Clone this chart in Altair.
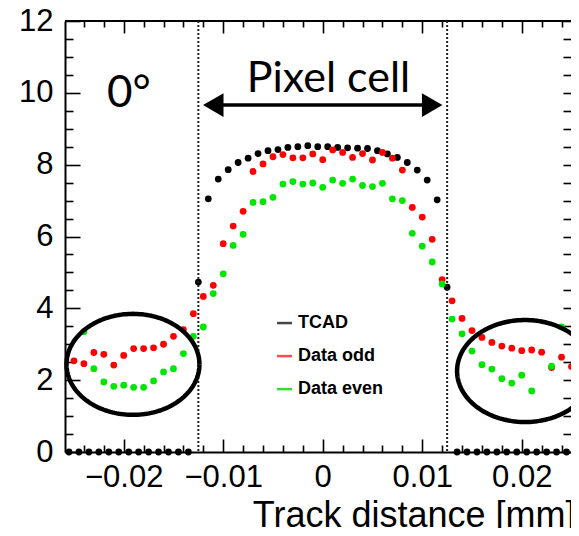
import altair as alt
import numpy as np
import pandas as pd

# ---------------- layout ----------------
W, H = 506, 431
X_DOMAIN = [-0.0259, 0.02495]
Y_DOMAIN = [0, 12]

# ---------------- data ----------------
series_names = ["TCAD", "Data odd", "Data even"]
series_colors = ["#000000", "#ff0000", "#00e600"]

tcad_x = [-0.0255, -0.0245, -0.0235, -0.0225, -0.0215, -0.0205, -0.0195, -0.0185,
          -0.0175, -0.0165, -0.0155, -0.0145, -0.0135,
          -0.0125, -0.0115, -0.0105, -0.0095, -0.0085, -0.0075, -0.0065, -0.0055,
          -0.0045, -0.0035, -0.0025, -0.0015, -0.0005, 0.0005, 0.0015, 0.0025,
          0.0035, 0.0045, 0.0055, 0.0065, 0.0075, 0.0085, 0.0095, 0.0105, 0.0115, 0.0125,
          0.0135, 0.0145, 0.0155, 0.0165, 0.0175, 0.0185, 0.0195, 0.0205, 0.0215,
          0.0225, 0.0235, 0.0245, 0.0255]
tcad_y = [0, 0, 0, 0, 0, 0, 0, 0, 0, 0, 0, 0, 0,
          4.73, 7.05, 7.60, 7.86, 8.06, 8.18, 8.31, 8.39, 8.42, 8.48, 8.50, 8.53, 8.50,
          8.50, 8.48, 8.47, 8.46, 8.45, 8.39, 8.30, 8.20, 8.06, 7.85, 7.57, 7.02, 4.59,
          0, 0, 0, 0, 0, 0, 0, 0, 0, 0, 0, 0, 0]

odd_x = [-0.025, -0.024, -0.023, -0.022, -0.021, -0.020, -0.019, -0.018, -0.017,
         -0.016, -0.015, -0.014, -0.013, -0.012, -0.011, -0.010, -0.009, -0.008,
         -0.007, -0.006, -0.005, -0.004, -0.003, -0.002, -0.001, 0.0, 0.001, 0.002,
         0.003, 0.004, 0.005, 0.006, 0.007, 0.008, 0.009, 0.010, 0.011, 0.012, 0.013,
         0.014, 0.015, 0.016, 0.017, 0.018, 0.019, 0.020, 0.021, 0.022, 0.023, 0.024,
         0.025, 0.026]
odd_y = [2.54, 2.46, 2.77, 2.72, 2.42, 2.69, 2.88, 2.88, 2.90, 3.00, 3.22, 3.41, 3.85,
         4.33, 4.64, 5.80, 6.29, 6.70, 7.81, 8.02, 8.22, 8.28, 8.19, 8.19, 8.30, 8.14,
         8.41, 8.34, 8.20, 8.31, 8.13, 8.34, 8.18, 7.85, 6.81, 6.54, 5.92, 4.80, 4.21,
         3.72, 3.38, 3.19, 3.05, 2.95, 2.89, 2.82, 2.84, 2.78, 2.35, 2.64, 2.38, 2.20]

even_x = [-0.024, -0.023, -0.022, -0.021, -0.020, -0.019, -0.018, -0.017, -0.016,
          -0.015, -0.014, -0.013, -0.012, -0.011, -0.010, -0.009, -0.008, -0.007,
          -0.006, -0.005, -0.004, -0.003, -0.002, -0.001, 0.0, 0.001, 0.002, 0.003,
          0.004, 0.005, 0.006, 0.007, 0.008, 0.009, 0.010, 0.011, 0.012, 0.013, 0.014,
          0.015, 0.016, 0.017, 0.018, 0.019, 0.020, 0.021, 0.023, 0.024, 0.026]
even_y = [3.35, 2.32, 1.95, 1.83, 1.86, 1.80, 1.80, 1.98, 2.23, 2.32, 2.74, 3.22, 3.48,
          4.41, 4.96, 5.75, 6.06, 6.95, 6.97, 7.09, 7.46, 7.53, 7.46, 7.49, 7.37, 7.57,
          7.48, 7.60, 7.42, 7.39, 7.48, 7.05, 7.00, 6.09, 5.73, 5.29, 4.68, 3.70, 3.29,
          2.81, 2.43, 2.31, 2.04, 1.92, 2.14, 1.70, 2.39, 3.48, 4.36]

# axis ticks
x_major = [-0.02, -0.01, 0.0, 0.01, 0.02]
x_minor = [-0.024, -0.022, -0.018, -0.016, -0.014, -0.012, -0.008, -0.006, -0.004,
           -0.002, 0.002, 0.004, 0.006, 0.008, 0.012, 0.014, 0.016, 0.018, 0.022, 0.024]
y_major = [0, 2, 4, 6, 8, 10, 12]
y_minor = [0.5, 1, 1.5, 2.5, 3, 3.5, 4.5, 5, 5.5, 6.5, 7, 7.5, 8.5, 9, 9.5, 10.5, 11, 11.5]

# annotations
cell_edges = [-0.0125, 0.0125]
ell_cx = [-0.01907, 0.02033]
ell_cy = [2.44, 2.255]
ell_rx = [0.00668, 0.00683]
ell_ry = [1.406, 1.42]
arrow_y = 9.66
arrow_x = [-0.0110, 0.0110]
legend_labels = ["TCAD", "Data odd", "Data even"]
legend_line_colors = ["#444444", "#ff4d4d", "#33dd33"]
legend_y = [3.59, 2.67, 1.75]
legend_x = [-0.00459, -0.00309]
legend_text_x = -0.00248

# ---------------- tables ----------------
df_pts = pd.concat([
    pd.DataFrame({"x": tcad_x, "y": tcad_y, "series": "TCAD"}),
    pd.DataFrame({"x": odd_x, "y": odd_y, "series": "Data odd"}),
    pd.DataFrame({"x": even_x, "y": even_y, "series": "Data even"}),
], ignore_index=True)

t = np.linspace(0, 2 * np.pi, 181)
ell_rows = []
for k in range(len(ell_cx)):
    for i, tt in enumerate(t):
        ell_rows.append({"e": k, "i": i,
                         "x": ell_cx[k] + ell_rx[k] * np.cos(tt),
                         "y": ell_cy[k] + ell_ry[k] * np.sin(tt)})
df_ell = pd.DataFrame(ell_rows)

FONT = "Liberation Sans"
xs = alt.Scale(domain=X_DOMAIN, nice=False, zero=False)
ys = alt.Scale(domain=Y_DOMAIN, nice=False, zero=False)

AX = alt.Axis(
    values=x_major, labelExpr="datum.value == 0 ? '0' : format(datum.value, '.2f')",
    labelFontSize=31, labelFont=FONT, labelColor="black", ticks=False, tickSize=0,
    labelPadding=10, labelFlush=False, labelOverlap=False,
    domainColor="black", domainWidth=2, grid=False,
    title="Track distance [mm]", titleFontSize=36, titleFont=FONT,
    titleFontWeight="normal", titleColor="black", titleX=W + 4, titleY=74,
    titleAlign="right", titleBaseline="alphabetic")
AY = alt.Axis(
    values=y_major, format="d", labelFontSize=31, labelFont=FONT, labelColor="black",
    ticks=False, tickSize=0, labelPadding=12, labelOverlap=False, labelFlush=False,
    domainColor="black", domainWidth=2, grid=False, title=None)


def tick_axis(orient, values, size):
    # inward ticks: an axis moved into the plot by its own tick length
    return alt.Axis(orient=orient, offset=-size, tickSize=size, values=values,
                    labels=False, domain=False, grid=False, title=None,
                    tickColor="black", tickWidth=1.6, ticks=True)


def X(field="x", axis=None):
    return alt.X(f"{field}:Q", scale=xs, axis=axis)


def Y(field="y", axis=None):
    return alt.Y(f"{field}:Q", scale=ys, axis=axis)


# ---------------- points (owns the labelled axes) ----------------
points = alt.Chart(df_pts).mark_circle(size=46, opacity=1).encode(
    x=X(axis=AX), y=Y(axis=AY),
    color=alt.Color("series:N", scale=alt.Scale(domain=series_names, range=series_colors),
                    legend=None),
)


# ---------------- frame ticks through extra axes ----------------
def ghost(xaxis, yaxis):
    return alt.Chart(df_pts).mark_circle(opacity=0, size=1).encode(
        x=X(axis=xaxis), y=Y(axis=yaxis))


ticks_a = ghost(tick_axis("bottom", x_major, 13), tick_axis("left", y_major, 15))
ticks_b = ghost(tick_axis("bottom", x_minor, 7), tick_axis("left", y_minor, 8))
ticks_c = ghost(tick_axis("top", x_major, 12), tick_axis("right", y_major + y_minor, 8))
ticks_d = ghost(tick_axis("top", x_minor, 6), None)

top_line = alt.Chart(pd.DataFrame({"a": [0]})).mark_rule(color="black", strokeWidth=2).encode(
    x=alt.value(0), x2=alt.value(W), y=alt.value(0))

# ---------------- cell edges ----------------
edges = alt.Chart(pd.DataFrame({"x": cell_edges})).mark_rule(
    color="#222222", strokeWidth=2, strokeDash=[2, 2]).encode(
    x=X(), y=alt.value(0), y2=alt.value(H))

# ---------------- ellipses ----------------
ellipses = alt.Chart(df_ell).mark_line(color="black", strokeWidth=4.5).encode(
    x=X(), y=Y(), detail="e:N", order="i:Q")

# ---------------- arrow + texts ----------------
arrow_line = alt.Chart(pd.DataFrame({"x": [arrow_x[0]], "x2": [arrow_x[1]], "y": [arrow_y]})).mark_rule(
    color="black", strokeWidth=3.5).encode(x=X(), x2="x2:Q", y=Y())
arrow_heads = alt.Chart(pd.DataFrame({"x": arrow_x, "y": [arrow_y, arrow_y],
                                      "shape": ["triangle-left", "triangle-right"]})).mark_point(
    filled=True, color="black", opacity=1, size=560).encode(
    x=X(), y=Y(), shape=alt.Shape("shape:N", scale=None))

pixel_text = alt.Chart(pd.DataFrame({"x": [0.00058], "y": [10.02], "t": ["Pixel cell"]})).mark_text(
    font="Lato", fontSize=43, color="black", align="center", baseline="alphabetic").encode(
    x=X(), y=Y(), text="t:N")
angle_text = alt.Chart(pd.DataFrame({"x": [-0.02168], "y": [9.60], "t": ["0°"]})).mark_text(
    font="Lato", fontSize=44, color="black", align="left", baseline="alphabetic").encode(
    x=X(), y=Y(), text="t:N")

# ---------------- legend ----------------
df_leg = pd.DataFrame({"label": legend_labels, "y": legend_y,
                       "x": [legend_x[0]] * 3, "x2": [legend_x[1]] * 3,
                       "tx": [legend_text_x] * 3})
leg_lines = alt.Chart(df_leg).mark_rule(strokeWidth=2.5).encode(
    x=X(), x2="x2:Q", y=Y(),
    color=alt.Color("label:N", scale=alt.Scale(domain=legend_labels, range=legend_line_colors),
                    legend=None))
leg_text = alt.Chart(df_leg).mark_text(
    font=FONT, fontSize=18, fontWeight="bold", color="black", align="left", baseline="middle").encode(
    x=X("tx"), y=Y(), text="label:N")

chart = alt.layer(
    points, ticks_a, ticks_b, ticks_c, ticks_d, top_line,
    edges, ellipses, arrow_line, arrow_heads, pixel_text, angle_text,
    leg_lines, leg_text,
).resolve_scale(color="independent").resolve_axis(x="independent", y="independent").properties(
    width=W, height=H,
    autosize=alt.AutoSizeParams(type="none"),
    padding={"left": 57, "top": 13, "right": 0, "bottom": 76},
    background="white",
).configure_view(stroke=None)

chart.save("out.html", embed_options={"renderer": "svg", "actions": False})
